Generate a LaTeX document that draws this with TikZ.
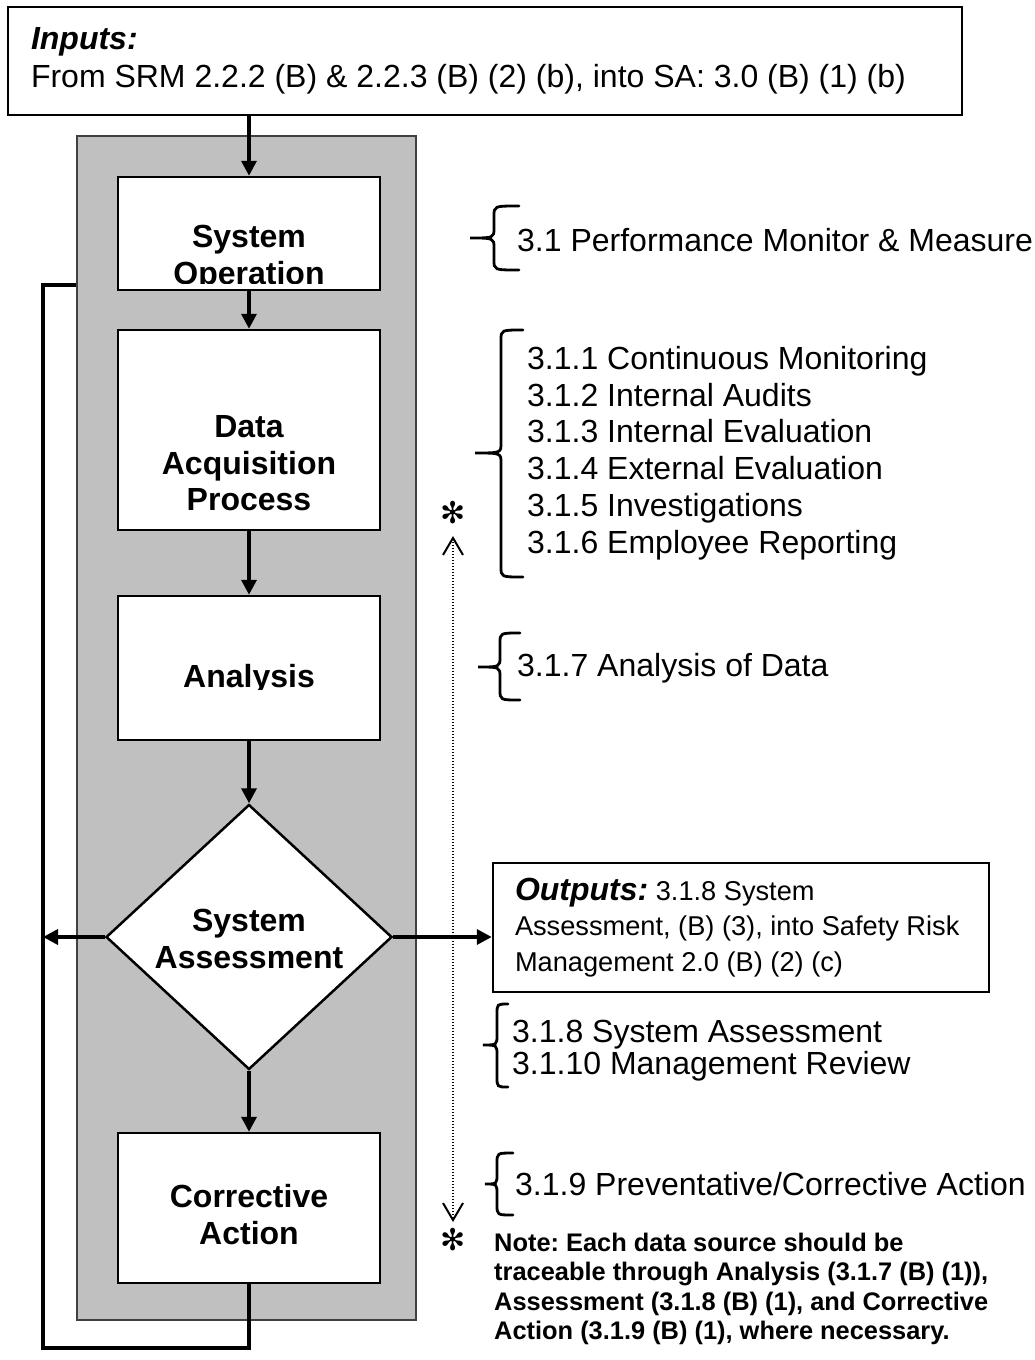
\documentclass[tikz,border=0pt]{standalone}
\usepackage{fontspec}
\setmainfont{Liberation Sans}
\newfontfamily\djv{DejaVu Sans}
\usetikzlibrary{arrows.meta,shapes.geometric}
\definecolor{panelgray}{HTML}{C0C0C0}
\AtBeginDocument{\frenchspacing}
\newcommand{\drawbrace}[6]{%
  \draw[bracestyle] (#3,#4) .. controls (#2,#4) .. (#2,#4+10) -- (#2,#5-10)
    .. controls (#2,#5) .. (#1,#5) .. controls (#2,#5) .. (#2,#5+10)
    -- (#2,#6-10) .. controls (#2,#6) .. (#3,#6);}
\begin{document}
\begin{tikzpicture}[x=1pt,y=-1pt,
  box/.style={draw, line width=2.5pt, fill=white, inner sep=0pt},
  lbl/.style={font=\fontsize{32}{36.5}\selectfont\bfseries, align=flush center, inner sep=0pt},
  flow/.style={line width=3.5pt, -{Triangle[length=15pt,width=15pt]}},
  loopline/.style={line width=3.5pt},
  bracestyle/.style={line width=2.8pt, line cap=round},
  reftext/.style={font=\fontsize{32}{36.8}\selectfont, align=flush left, anchor=west, inner sep=0pt},
  dotarrow/.style={line width=2pt, dash pattern=on 1.5pt off 1.5pt,
    {Straight Barb[length=17pt,width=20pt,line width=2pt]}-{Straight Barb[length=17pt,width=20pt,line width=2pt]}},
  star/.style={inner sep=0pt, font=\djv\fontsize{30}{30}\selectfont}
]
\useasboundingbox (0,0) rectangle (1035,1360);

% inputs box
\node[draw, line width=2.5pt, minimum width=954pt, minimum height=108pt, text width=908pt,
  inner xsep=23pt, inner ysep=0pt, align=flush left, font=\fontsize{32}{38}\selectfont]
  (inputs) at (485,61) {\textbf{\textit{Inputs:}}\\From SRM 2.2.2 (B) \& 2.2.3 (B) (2) (b), into SA: 3.0 (B) (1) (b)};

% gray panel
\node[draw=black!75, line width=1.5pt, fill=panelgray, minimum width=339pt, minimum height=1184pt, inner sep=0pt]
  (panel) at (246.5,728) {};

% process boxes
\node[box, minimum width=262pt, minimum height=113pt] (sysop) at (249,233.5) {};
\node[box, minimum width=262pt, minimum height=200pt] (daq) at (249,430) {};
\node[box, minimum width=262pt, minimum height=144pt] (anal) at (249,668) {};
\node[diamond, draw, line width=2.5pt, fill=white, inner sep=0pt, minimum width=286pt, minimum height=265pt] (sa) at (249,937) {};
\node[box, minimum width=262pt, minimum height=150pt] (ca) at (249,1208) {};

% labels
\begin{scope}
  \clip (118,177) rectangle (380,283);
  \node[lbl] (sysoplbl) at (249,258) {System\\Operation};
\end{scope}
\node[lbl] (daqlbl) at (249,463.5) {Data\\Acquisition\\Process};
\begin{scope}
  \clip (118,596) rectangle (380,689);
  \node[lbl] (anallbl) at (249,679) {Analysis};
\end{scope}
\node[lbl] (salbl) at (249,939) {System\\Assessment};
\node[lbl] (calbl) at (249,1214.5) {Corrective\\Action};

% outputs box
\node[draw, line width=2.5pt, minimum width=496pt, minimum height=129pt, text width=460pt,
  inner xsep=18pt, inner ysep=0pt, align=flush left, font=\fontsize{27.2}{35.5}\selectfont]
  (outputs) at (741,927.5) {\hspace*{4pt}{\fontsize{32}{35.5}\selectfont\bfseries\itshape Outputs:} 3.1.8 System\\\hspace*{4pt}Assessment, (B) (3), into Safety Risk\\\hspace*{4pt}Management 2.0 (B) (2) (c)};

% flow arrows
\draw[flow] (inputs.south -| sysop) -- (sysop.north);
\draw[flow] (sysop.south) -- (daq.north);
\draw[flow] (daq.south) -- (anal.north);
\draw[flow] (anal.south) -- (sa.north);
\draw[flow] (sa.south) -- (ca.north);
\draw[flow] (sa.east) -- (sa.east -| outputs.west);

% feedback loop
\coordinate (lb) at (43,1348);
\coordinate (lt) at (43,285);
\draw[loopline] (ca.south) -- (ca.south |- lb) -- (lb) -- (lt) -- (lt -| panel.west);
\draw[flow] (sa.west) -- (sa.west -| lt);

% dotted traceability arrow and asterisks
\coordinate (dtop) at (453,536);
\coordinate (dbot) at (453,1222);
\draw[dotarrow] (dtop) -- (dbot);
\node[star] (ast1) at (453,513) {✻};
\node[star] (ast2) at (453,1240) {✻};

% braces and references
\drawbrace{470}{494}{519}{206}{238}{270}
\node[reftext] (r31) at (517,240) {3.1 Performance Monitor \& Measure};
\drawbrace{475}{501}{523}{330}{453}{577}
\node[reftext] (r311) at (527,453) {3.1.1 Continuous Monitoring\\3.1.2 Internal Audits\\3.1.3 Internal Evaluation\\3.1.4 External Evaluation\\3.1.5 Investigations\\3.1.6 Employee Reporting};
\drawbrace{478}{500}{520}{633}{667}{700}
\node[reftext] (r317) at (517,668) {3.1.7 Analysis of Data};
\drawbrace{483}{497}{508}{1004}{1045}{1087}
\node[reftext, font=\fontsize{32}{32}\selectfont] (r318) at (512,1051) {3.1.8 System Assessment\\3.1.10 Management Review};
\drawbrace{485}{497}{513}{1153}{1184}{1215}
\node[reftext] (r319) at (515,1184) {3.1.9 Preventative/Corrective Action};

% note
\node[reftext, font=\fontsize{25.4}{29.5}\selectfont\bfseries] (note) at (494,1289)
  {Note: Each data source should be\\traceable through Analysis (3.1.7 (B) (1)),\\Assessment (3.1.8 (B) (1), and Corrective\\Action (3.1.9 (B) (1), where necessary.};
\end{tikzpicture}
\end{document}
